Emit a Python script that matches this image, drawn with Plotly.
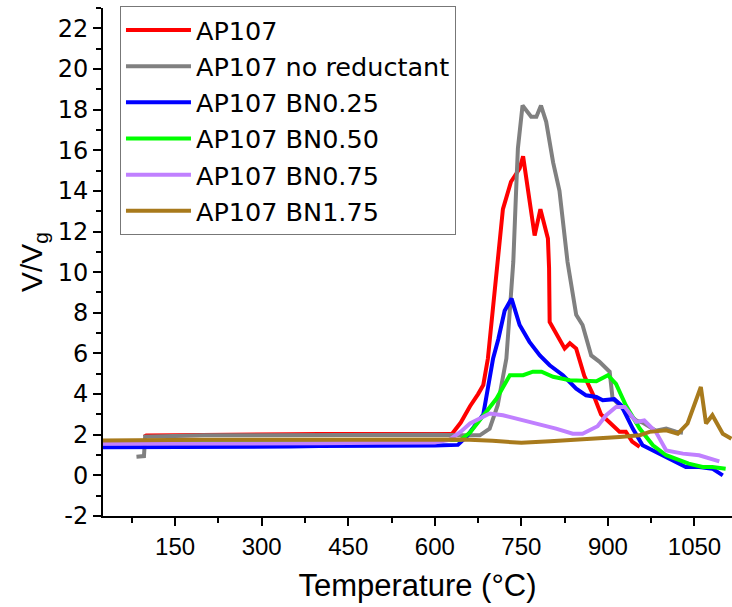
import plotly.graph_objects as go

# ---- data ----
red_T = [96, 100, 150, 200, 250, 300, 350, 400, 450, 500, 550, 600, 630, 645, 661, 675, 684, 692, 703, 709, 718, 732, 747, 753, 773, 783, 796, 798, 799, 825, 834, 845, 859, 877, 888, 903, 920, 931, 942, 955]
red_V = [1.9, 1.96, 1.98, 2.0, 2.0, 2.02, 2.02, 2.03, 2.03, 2.02, 2.02, 2.02, 2.05, 2.6, 3.4, 4.0, 4.45, 5.75, 9.0, 10.6, 13.1, 14.45, 15.1, 15.7, 11.8, 13.1, 11.65, 10.2, 7.55, 6.24, 6.5, 6.24, 4.9, 3.8, 3.0, 2.6, 2.15, 2.15, 1.66, 1.4]

grey_T = [83, 96, 98, 150, 200, 250, 300, 350, 400, 450, 500, 550, 600, 650, 678, 695, 709, 724, 733, 736, 741, 744, 752, 767, 776, 784, 793, 805, 816, 830, 845, 856, 871, 885, 903, 908, 925, 949, 960, 983, 1001, 1018, 1030]
grey_V = [0.92, 0.95, 1.9, 1.95, 1.97, 1.97, 1.98, 1.98, 2.0, 2.0, 1.98, 2.0, 2.0, 1.97, 1.97, 2.3, 3.45, 5.75, 8.9, 10.5, 14.1, 16.1, 18.2, 17.65, 17.65, 18.2, 17.4, 15.4, 14.0, 10.5, 7.9, 7.4, 5.9, 5.6, 5.1, 3.8, 3.3, 2.7, 2.6, 2.2, 2.3, 2.15, 2.1]

blue_T = [25, 50, 100, 150, 200, 250, 300, 350, 400, 450, 500, 550, 600, 640, 655, 668, 684, 701, 710, 721, 733, 747, 764, 782, 799, 822, 845, 862, 880, 891, 911, 923, 943, 960, 978, 1001, 1035, 1058, 1081, 1099]
blue_V = [1.38, 1.38, 1.38, 1.4, 1.4, 1.42, 1.42, 1.42, 1.44, 1.44, 1.45, 1.45, 1.47, 1.5, 1.9, 2.4, 3.0, 5.75, 6.7, 8.1, 8.7, 7.4, 6.57, 5.9, 5.42, 4.93, 4.27, 3.94, 3.86, 3.7, 3.75, 3.45, 2.3, 1.48, 1.23, 0.9, 0.41, 0.41, 0.33, 0.0]

green_T = [25, 100, 200, 300, 400, 500, 600, 645, 661, 684, 707, 730, 753, 770, 785, 805, 834, 880, 900, 914, 931, 955, 978, 1001, 1023, 1040, 1064, 1081, 1104]
green_V = [1.65, 1.67, 1.68, 1.7, 1.72, 1.72, 1.73, 1.75, 2.1, 2.96, 3.78, 4.93, 4.93, 5.1, 5.1, 4.85, 4.68, 4.63, 4.93, 4.5, 3.45, 2.3, 1.48, 0.99, 0.74, 0.58, 0.41, 0.41, 0.33]

purple_T = [25, 100, 200, 300, 400, 500, 600, 625, 645, 661, 680, 695, 718, 776, 810, 839, 856, 882, 897, 914, 929, 949, 963, 983, 1001, 1030, 1058, 1093]
purple_V = [1.55, 1.55, 1.56, 1.57, 1.58, 1.6, 1.62, 1.75, 2.15, 2.55, 2.8, 3.04, 2.96, 2.55, 2.3, 2.05, 2.05, 2.42, 2.96, 3.37, 3.37, 2.63, 2.7, 2.14, 1.23, 1.07, 0.99, 0.69]

brown_T = [25, 100, 200, 300, 400, 500, 600, 650, 700, 750, 800, 850, 885, 920, 955, 972, 1001, 1021, 1038, 1061, 1070, 1081, 1099, 1114]
brown_V = [1.72, 1.75, 1.75, 1.75, 1.76, 1.77, 1.78, 1.76, 1.7, 1.6, 1.68, 1.75, 1.8, 1.89, 1.97, 2.14, 2.22, 2.05, 2.55, 4.35, 2.55, 2.96, 2.05, 1.8]

names = ["AP107", "AP107 no reductant", "AP107 BN0.25", "AP107 BN0.50", "AP107 BN0.75", "AP107 BN1.75"]
colors = ["#FF0000", "#808080", "#0000FF", "#00FF00", "#C080FF", "#A87A1C"]
series = [(red_T, red_V), (grey_T, grey_V), (blue_T, blue_V), (green_T, green_V),
          (purple_T, purple_V), (brown_T, brown_V)]

x_ticks = [150, 300, 450, 600, 750, 900, 1050]
y_ticks = [-2, 0, 2, 4, 6, 8, 10, 12, 14, 16, 18, 20, 22]

FONT = "Liberation Sans, Arial, sans-serif"
WIDE = "DejaVu Sans, sans-serif"

fig = go.Figure()
for (t, v), n, c in zip(series, names, colors):
    fig.add_trace(go.Scatter(x=t, y=v, mode="lines", name=n,
                             line=dict(color=c, width=4)))

fig.update_layout(
    width=732, height=607,
    margin=dict(l=103, r=0, t=8, b=91),
    paper_bgcolor="white", plot_bgcolor="white",
    font=dict(family=FONT, color="black"),
    showlegend=True,
    legend=dict(x=0.027, y=1.004, xanchor="left", yanchor="top",
                bgcolor="white", bordercolor="#777777", borderwidth=1,
                font=dict(size=25.5, family=WIDE), itemwidth=65,
                tracegroupgap=0),
)
fig.update_xaxes(range=[25, 1115], tickmode="array", tickvals=x_ticks,
                 ticktext=[str(v) for v in x_ticks],
                 ticks="outside", ticklen=8, tickwidth=2, tickcolor="black",
                 showline=True, linecolor="black", linewidth=2,
                 showgrid=False, zeroline=False,
                 tickfont=dict(size=24, family=FONT),
                 minor=dict(dtick=150, tick0=75, ticks="outside", ticklen=5, tickwidth=2, tickcolor="black"),
                 title=dict(text="Temperature (°C)", font=dict(size=31, family=FONT), standoff=16))
fig.update_yaxes(range=[-2, 23], tickmode="array", tickvals=y_ticks,
                 ticktext=[str(v) for v in y_ticks],
                 ticks="outside", ticklen=8, tickwidth=2, tickcolor="black",
                 showline=True, linecolor="black", linewidth=2,
                 showgrid=False, zeroline=False,
                 tickfont=dict(size=24, family=WIDE),
                 minor=dict(dtick=2, tick0=-1, ticks="outside", ticklen=5, tickwidth=2, tickcolor="black"),
                 title=dict(text="V/V<sub>g</sub>", font=dict(size=30, family=FONT), standoff=6))

fig.write_html("out.html")
